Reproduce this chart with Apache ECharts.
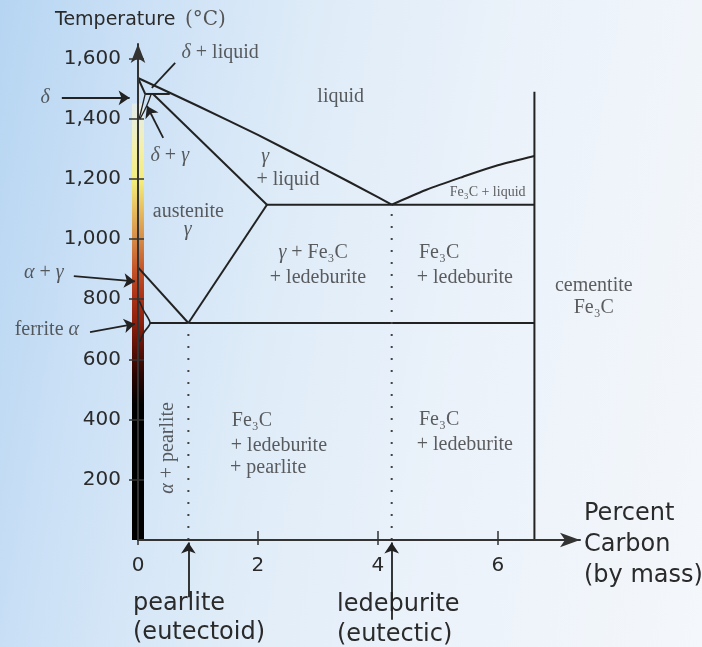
<!DOCTYPE html>
<html><head><meta charset="utf-8">
<script src="https://cdn.jsdelivr.net/npm/echarts@6/dist/echarts.min.js"></script>
<style>
html,body{margin:0;padding:0;width:702px;height:647px;overflow:hidden;}
body{background:linear-gradient(100deg,#b6d5f2 0%,#cce1f6 18%,#dfecf8 40%,#ebf2fa 65%,#f4f7fb 100%);}
#c{width:702px;height:647px;}
</style></head><body><div id="c"></div>
<script>
// ---- data (percent carbon, temperature °C) ----
const xTicks = [0, 2, 4, 6];
const yTicks = [200, 400, 600, 800, 1000, 1200, 1400, 1600];
const liquidusLeft = [[0,1535],[0.53,1486],[1,1442],[1.5,1394],[2,1346],[2.5,1295],[3,1244],[3.5,1192],[4,1139],[4.23,1114]];
const liquidusRight = [[4.23,1114],[4.8,1163],[5.42,1207],[6.0,1245],[6.61,1276]];
const deltaSolidus = [[0,1535],[0.12,1482]];
const peritectic = [[0.12,1482],[0.53,1482]];
const deltaBoundary = [[0.12,1482],[0.07,1440],[0.02,1400]];
const gammaDeltaBoundary = [[0.22,1482],[0.14,1440],[0.03,1398]];
const gammaSolidus = [[0.25,1482],[2.15,1114]];
const eutecticLine = [[2.15,1114],[6.61,1114]];
const acmLine = [[0.84,721],[2.15,1114]];
const a3Line = [[0,906],[0.84,721]];
const eutectoidLine = [[0.2,721],[6.61,721]];
const ferriteLine = [[0.02,795],[0.1,760],[0.2,721],[0.1,690],[0.03,659]];
const cementiteLine = [[6.61,0],[6.61,1489]];
const eutectoidDots = [[0.84,0],[0.84,721]];
const eutecticDots = [[4.23,0],[4.23,1114]];
const heatBar = [[0,1450]];
const arrowLines = [
  [[-1.27,1469],[-0.14,1469]],   // delta
  [[0.42,1336],[0.15,1442]],     // delta + gamma
  [[-1.07,877],[-0.05,859]],     // alpha + gamma
  [[-0.80,691],[-0.05,718]],     // ferrite
  [[0.84,-190],[0.84,-8]],       // pearlite
  [[4.23,-265],[4.23,-8]]        // ledeburite
];
const pointerLines = [[[0.62,1585],[0.23,1502]]];

const SERIF = "'Liberation Serif','DejaVu Serif',serif";
const SANS = "'DejaVu Sans',sans-serif";
const TXT = '#363636';
const LINE = '#222222';

// annotation labels (data coords)
const annotations = [
  {p:[1.37,1618], t:'{i|δ} + liquid'},
  {p:[-1.55,1469], t:'{i|δ}'},
  {p:[0.53,1276], t:'{i|δ} + {i|γ}'},
  {p:[3.38,1472], t:'liquid'},
  {p:[2.12,1273], t:'{i|γ}'},
  {p:[2.50,1196], t:'+ liquid'},
  {p:[0.84,1090], t:'austenite'},
  {p:[0.83,1030], t:'{i|γ}'},
  {p:[2.92,954], t:'{i|γ} + Fe₃C'},
  {p:[3.00,871], t:'+ ledeburite'},
  {p:[5.02,954], t:'Fe₃C'},
  {p:[5.45,871], t:'+ ledeburite'},
  {p:[5.83,1156], t:'Fe₃C + liquid', fs:14},
  {p:[7.60,844], t:'cementite'},
  {p:[7.60,771], t:'Fe₃C'},
  {p:[-1.57,887], t:'{i|α} + {i|γ}'},
  {p:[-1.52,698], t:'ferrite {i|α}'},
  {p:[0.50,306], t:'{i|α} + pearlite', rot:90},
  {p:[1.90,395], t:'Fe₃C'},
  {p:[2.35,312], t:'+ ledeburite'},
  {p:[2.17,239], t:'+ pearlite'},
  {p:[5.02,399], t:'Fe₃C'},
  {p:[5.45,316], t:'+ ledeburite'}
];

const chart = echarts.init(document.getElementById('c'), null, {renderer:'canvas'});

function lineSeries(data, extra) {
  return Object.assign({
    type:'line', data:data, symbol:'none', clip:false, silent:true, z:3,
    lineStyle:{color:LINE, width:2}, animation:false
  }, extra || {});
}

const barGrad = new echarts.graphic.LinearGradient(0,1,0,0,[
  {offset:0, color:'#000000'},
  {offset:0.31, color:'#000000'},
  {offset:0.38, color:'#2a0502'},
  {offset:0.44, color:'#5c1006'},
  {offset:0.50, color:'#8e200c'},
  {offset:0.56, color:'#ad3318'},
  {offset:0.62, color:'#c45428'},
  {offset:0.69, color:'#d68c48'},
  {offset:0.76, color:'#e8c060'},
  {offset:0.82, color:'#f2ec78'},
  {offset:0.90, color:'#f4f0aa'},
  {offset:1.0, color:'rgba(240,242,225,0.6)'}
]);

const option = {
  animation:false,
  backgroundColor:'transparent',
  grid:{left:138, right:122, top:44, bottom:107, containLabel:false},
  xAxis:[{
    type:'value', min:0, max:7.37, position:'bottom', z:5,
    axisLine:{show:true, lineStyle:{color:'#333', width:2}, symbol:['none','arrow'], symbolSize:[11,20]},
    axisTick:{show:true, length:5, customValues:xTicks, lineStyle:{color:'#333', width:1.5}},
    axisLabel:{show:true, customValues:xTicks, margin:16, fontSize:20, fontFamily:SANS, color:'#2a2a2a'},
    splitLine:{show:false}
  },{
    type:'value', min:0, max:7.37, position:'bottom', z:5,
    axisLine:{show:false},
    axisTick:{show:true, inside:true, length:9, customValues:[2,4,6], lineStyle:{color:'#333', width:1.5}},
    axisLabel:{show:false}, splitLine:{show:false}
  }],
  yAxis:[{
    type:'value', min:0, max:1648, position:'left', z:5,
    axisLine:{show:true, lineStyle:{color:'#333', width:2}, symbol:['none','arrow'], symbolSize:[11,19]},
    axisTick:{show:true, length:9, customValues:yTicks, lineStyle:{color:'#333', width:1.5}},
    axisLabel:{show:true, customValues:yTicks, margin:17, fontSize:20, fontFamily:SANS, color:'#2a2a2a',
      formatter:function(v){return v.toLocaleString('en-US');}},
    splitLine:{show:false}
  },{
    type:'value', min:0, max:1648, position:'left', z:5,
    axisLine:{show:false},
    axisTick:{show:true, inside:true, length:6, customValues:yTicks, lineStyle:{color:'#333', width:1.5}},
    axisLabel:{show:false}, splitLine:{show:false}
  }],
  graphic:[
    {type:'text', left:55, top:11, style:{text:'Temperature', font:'19px '+SANS, fill:'#2a2a2a'}},
    {type:'text', left:185, top:10, style:{text:'(°C)', font:"20px 'DejaVu Serif',serif", fill:'#555'}},
    {type:'text', left:584, top:498, style:{text:'Percent\nCarbon\n(by mass)', font:'24px '+SANS, lineHeight:31, fill:'#2a2a2a'}},
    {type:'text', left:133, top:589, style:{text:'pearlite\n(eutectoid)', font:'24px '+SANS, lineHeight:29, fill:'#2a2a2a'}},
    {type:'text', left:337, top:590, style:{text:'ledeburite\n(eutectic)', font:'24px '+SANS, lineHeight:30, fill:'#2a2a2a'}}
  ],
  series:[
    {type:'bar', data:heatBar, barWidth:12, z:1, silent:true, itemStyle:{color:barGrad}, animation:false},
    lineSeries(liquidusLeft),
    lineSeries(liquidusRight, {smooth:0.3}),
    lineSeries(deltaSolidus),
    lineSeries(peritectic),
    lineSeries(deltaBoundary, {smooth:0.4, lineStyle:{color:LINE, width:1.3}}),
    lineSeries(gammaDeltaBoundary, {smooth:0.4, lineStyle:{color:LINE, width:1.3}}),
    lineSeries(gammaSolidus),
    lineSeries(eutecticLine),
    lineSeries(acmLine),
    lineSeries(a3Line),
    lineSeries(eutectoidLine),
    lineSeries(ferriteLine, {smooth:0.3, lineStyle:{color:LINE, width:1.6}}),
    lineSeries(cementiteLine),
    lineSeries(eutectoidDots, {lineStyle:{color:'#444', width:2, type:[2,10]}}),
    lineSeries(eutecticDots, {lineStyle:{color:'#444', width:2, type:[2,10]}}),
    {type:'lines', coordinateSystem:'cartesian2d', clip:false, silent:true, z:4,
     symbol:['none','arrow'], symbolSize:11,
     lineStyle:{color:LINE, width:1.8, opacity:1},
     data:arrowLines.map(function(a){return {coords:a};}), animation:false},
    {type:'lines', coordinateSystem:'cartesian2d', clip:false, silent:true, z:4,
     symbol:'none', lineStyle:{color:LINE, width:1.8, opacity:1},
     data:pointerLines.map(function(a){return {coords:a};}), animation:false},
    {type:'scatter', symbolSize:0, clip:false, silent:true, z:6, animation:false,
     data:annotations.map(function(a){
       return {value:a.p, label:{show:true, position:'inside', formatter:a.t,
         rotate:a.rot||0, fontSize:a.fs||20, fontFamily:SERIF, color:TXT,
         rich:{i:{fontStyle:'italic', fontFamily:SERIF, fontSize:a.fs||20, color:TXT}}}};
     })}
  ]
};
chart.setOption(option);
</script></body></html>
